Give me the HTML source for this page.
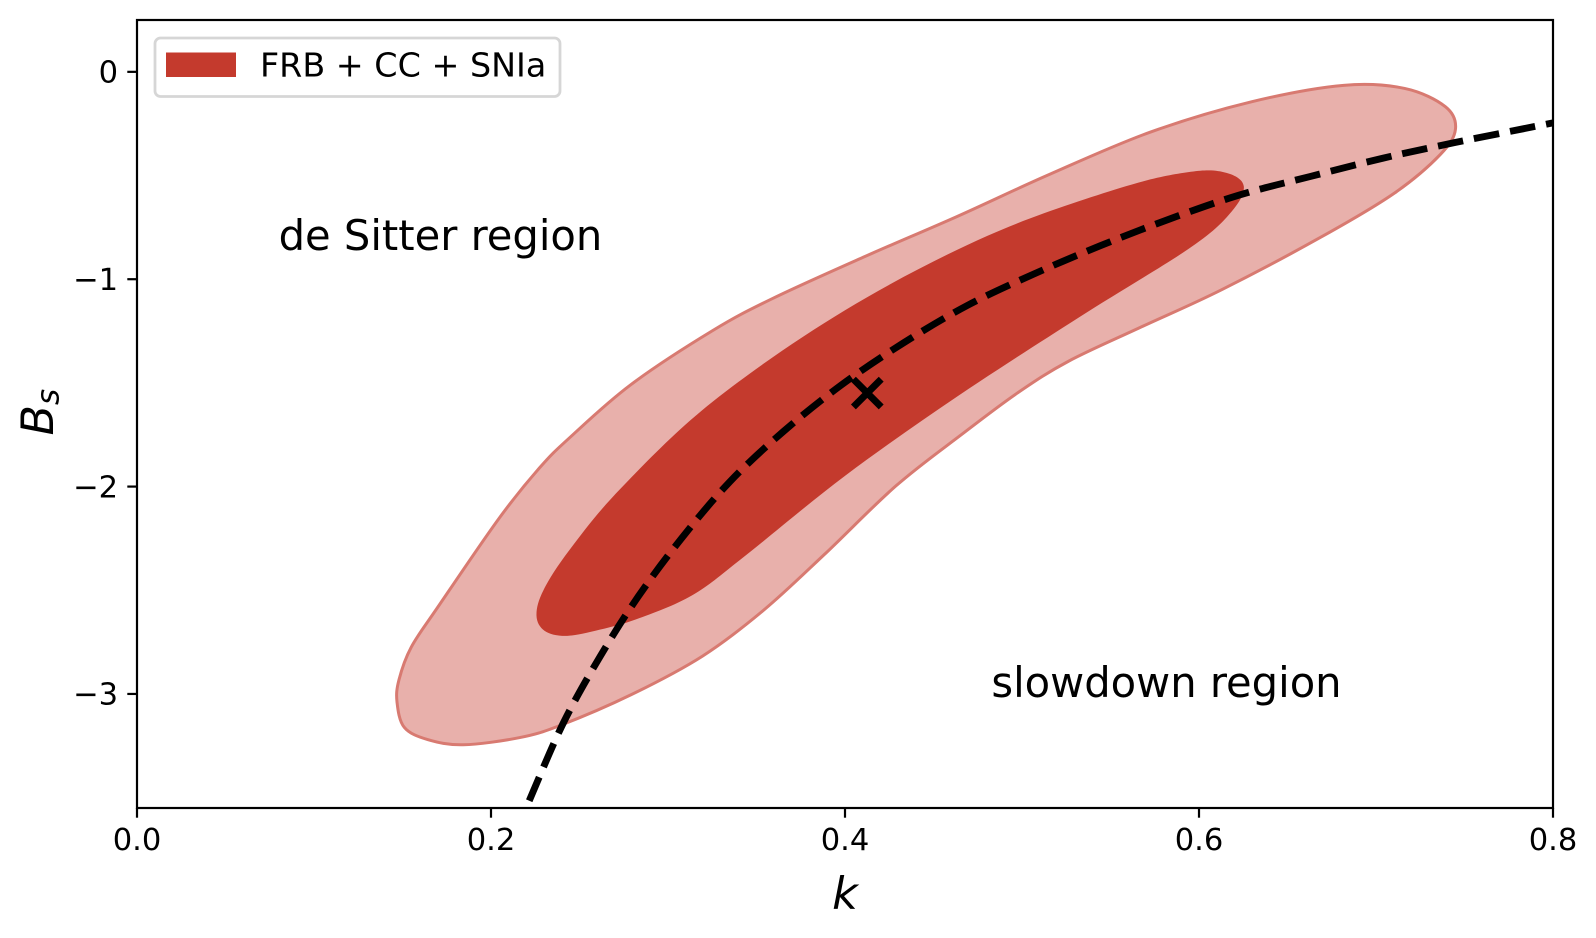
<!DOCTYPE html>
<html>
<head>
<meta charset="utf-8">
<title>k vs Bs constraints</title>
<style>
html,body{margin:0;padding:0;background:#fff;width:1596px;height:938px;overflow:hidden}
svg{display:block}
text{font-family:"DejaVu Sans","Liberation Sans",sans-serif;fill:#000}
</style>
</head>
<body>
<svg id="chart" xmlns="http://www.w3.org/2000/svg" width="1596" height="938" viewBox="0 0 1596 938">
  <rect x="0" y="0" width="1596" height="938" fill="#fff"/>
  <g id="marks"></g>
  <g id="axes"></g>
  <text id="annoA" font-size="41.67">de Sitter region</text>
  <text id="annoB" font-size="41.67">slowdown region</text>
  <text x="845" y="909" font-size="44.44" font-style="italic" text-anchor="middle">k</text>
  <text transform="translate(53,435.5) rotate(-90)" font-size="44.44" font-style="italic">B<tspan font-size="31.1" dy="5.5">s</tspan></text>
  <g>
    <rect x="155" y="38" width="405" height="58.5" rx="5.5" ry="5.5" fill="#fff" fill-opacity="0.8" stroke="#d6d6d6" stroke-width="2.78"/>
    <rect x="166" y="52.5" width="70" height="24.5" fill="#c43a2d"/>
    <text x="260" y="76.5" font-size="33.33">FRB + CC + SNIa</text>
  </g>
</svg>
<script>
const xTicks = [0.0, 0.2, 0.4, 0.6, 0.8];
const xTickLabels = ["0.0", "0.2", "0.4", "0.6", "0.8"];
const yTicks = [0, -1, -2, -3];
const yTickLabels = ["0", "\u22121", "\u22122", "\u22123"];
const xDomain = [0, 0.8];
const yDomain = [-3.55, 0.25];
const outerK = [.1469,.1480,.1549,.1699,.2044,.2274,.2446,.2791,.3252,.3596,.4114,.4632,.5149,.5724,.6299,.6817,.7162,.7392,.7449,.7363,.7104,.6702,.6127,.5667,.5264,.4977,.4660,.4286,.3884,.3539,.3194,.2791,.2390,.2159,.1843,.1642,.1510];
const outerB = [-3.039,-2.932,-2.775,-2.582,-2.155,-1.910,-1.763,-1.508,-1.248,-1.091,-.890,-.698,-.497,-.291,-.144,-.065,-.080,-.168,-.276,-.399,-.585,-.791,-1.051,-1.233,-1.395,-1.547,-1.748,-1.998,-2.327,-2.597,-2.818,-3.004,-3.152,-3.211,-3.245,-3.220,-3.161];
const innerK = [.2257,.2297,.2446,.2734,.3252,.3999,.4804,.5551,.5954,.6155,.6253,.6184,.5954,.5322,.4632,.3999,.3424,.3137,.2821,.2590,.2418,.2303];
const innerB = [-2.622,-2.499,-2.303,-2.008,-1.591,-1.150,-.791,-.561,-.482,-.487,-.551,-.674,-.846,-1.184,-1.567,-1.949,-2.342,-2.524,-2.640,-2.695,-2.720,-2.696];
const boundaryK = [.2216,.2408,.2616,.2832,.3077,.3350,.3651,.3981,.4329,.4688,.5064,.5441,.5836,.6232,.6627,.7041,.7446,.8000];
const boundaryB = [-3.515,-3.141,-2.820,-2.530,-2.249,-1.976,-1.735,-1.509,-1.308,-1.128,-.976,-.839,-.709,-.593,-.505,-.416,-.341,-.246];
const bestFitK = [0.4126];
const bestFitB = [-1.549];
const annotationA = [0.08, -0.86];
const annotationB = [0.4827, -3.015];

const NS = "http://www.w3.org/2000/svg";
const PLOT = {left:137, right:1553, top:20, bottom:808};
function sx(k){ return PLOT.left + (k - xDomain[0]) / (xDomain[1] - xDomain[0]) * (PLOT.right - PLOT.left); }
function sy(b){ return PLOT.bottom - (b - yDomain[0]) / (yDomain[1] - yDomain[0]) * (PLOT.bottom - PLOT.top); }
function smooth(ks, bs, closed){
  const pts = ks.map((k,i)=>[sx(k), sy(bs[i])]);
  const n = pts.length;
  const at = i => closed ? pts[(i+n)%n] : pts[Math.max(0,Math.min(n-1,i))];
  let d = "M" + pts[0][0].toFixed(2) + " " + pts[0][1].toFixed(2);
  const segs = closed ? n : n-1;
  for(let i=0;i<segs;i++){
    const p0=at(i-1), p1=at(i), p2=at(i+1), p3=at(i+2);
    const c1=[p1[0]+(p2[0]-p0[0])/6, p1[1]+(p2[1]-p0[1])/6];
    const c2=[p2[0]-(p3[0]-p1[0])/6, p2[1]-(p3[1]-p1[1])/6];
    d += "C"+c1[0].toFixed(2)+" "+c1[1].toFixed(2)+" "+c2[0].toFixed(2)+" "+c2[1].toFixed(2)+" "+p2[0].toFixed(2)+" "+p2[1].toFixed(2);
  }
  return closed ? d+"Z" : d;
}
function make(tag, parent, attrs){
  const el = document.createElementNS(NS, tag);
  for(const a in attrs){ el.setAttribute(a, attrs[a]); }
  parent.appendChild(el);
  return el;
}
const marks = document.getElementById("marks");
const axes = document.getElementById("axes");

const outer = make("path", marks, {d:smooth(outerK,outerB,true), fill:"#e8b0ab", stroke:"#d87a71", "stroke-width":3, "stroke-linejoin":"round"});



const inner = make("path", marks, {d:smooth(innerK,innerB,true), fill:"#c43a2d"});



const boundary = make("path", marks, {d:smooth(boundaryK,boundaryB,false), fill:"none", stroke:"#000", "stroke-width":6.9, "stroke-dasharray":"25.6 11.1"});



const mx = sx(bestFitK[0]), my = sy(bestFitB[0]), arm = 13.9;
const marker = make("path", marks, {d:`M${mx-arm} ${my-arm}L${mx+arm} ${my+arm}M${mx-arm} ${my+arm}L${mx+arm} ${my-arm}`, fill:"none", stroke:"#000", "stroke-width":6.9});



xTicks.forEach((t,i)=>{
  const tick = make("line", axes, {x1:sx(t), x2:sx(t), y1:PLOT.bottom, y2:PLOT.bottom+9.7, stroke:"#000", "stroke-width":2.2});
  
  
  const label = make("text", axes, {x:sx(t), y:850, "font-size":30.56, "text-anchor":"middle"});
  label.textContent = xTickLabels[i];
  
  
});
yTicks.forEach((t,i)=>{
  const tick = make("line", axes, {x1:PLOT.left-9.7, x2:PLOT.left, y1:sy(t), y2:sy(t), stroke:"#000", "stroke-width":2.2});
  
  
  const label = make("text", axes, {x:118, y:sy(t)+10.7, "font-size":30.56, "text-anchor":"end"});
  label.textContent = yTickLabels[i];
  
  
});
const spines = make("rect", axes, {x:PLOT.left, y:PLOT.top, width:PLOT.right-PLOT.left, height:PLOT.bottom-PLOT.top, fill:"none", stroke:"#000", "stroke-width":2.2});



const a = document.getElementById("annoA");
a.setAttribute("x", sx(annotationA[0]));
a.setAttribute("y", sy(annotationA[1]));
const b = document.getElementById("annoB");
b.setAttribute("x", sx(annotationB[0]));
b.setAttribute("y", sy(annotationB[1]));
</script>
</body>
</html>
